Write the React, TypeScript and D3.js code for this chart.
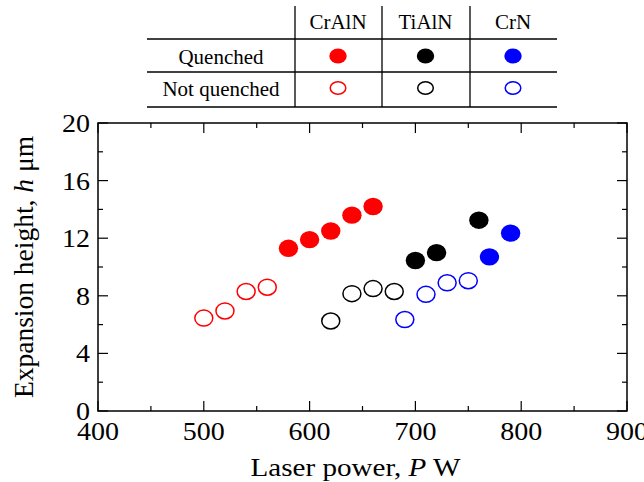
import React from "react";
import * as d3 from "d3";

// laser power (W) and expansion height (um)
const crAlNQuenchedP = [580, 600, 620, 640, 660];
const crAlNQuenchedH = [11.3, 11.9, 12.5, 13.6, 14.2];
const crAlNOpenP = [500, 520, 540, 560];
const crAlNOpenH = [6.45, 6.95, 8.3, 8.6];
const tiAlNQuenchedP = [700, 720, 760];
const tiAlNQuenchedH = [10.45, 11.0, 13.25];
const tiAlNOpenP = [620, 640, 660, 680];
const tiAlNOpenH = [6.25, 8.15, 8.5, 8.3];
const crNQuenchedP = [770, 790];
const crNQuenchedH = [10.7, 12.35];
const crNOpenP = [690, 710, 730, 750];
const crNOpenH = [6.35, 8.1, 8.9, 9.05];

const materials = ["CrAlN", "TiAlN", "CrN"];
const matColors = ["#ff0000", "#000000", "#0000ff"];
const rowLabels = ["Quenched", "Not quenched"];

const xMajor = [400, 500, 600, 700, 800, 900];
const xMinor = [450, 550, 650, 750, 850];
const yMajor = [0, 4, 8, 12, 16, 20];
const yMinor = [2, 6, 10, 14, 18];

const series = [
  { p: crAlNQuenchedP, h: crAlNQuenchedH, color: 0, filled: true },
  { p: crAlNOpenP, h: crAlNOpenH, color: 0, filled: false },
  { p: tiAlNQuenchedP, h: tiAlNQuenchedH, color: 1, filled: true },
  { p: tiAlNOpenP, h: tiAlNOpenH, color: 1, filled: false },
  { p: crNQuenchedP, h: crNQuenchedH, color: 2, filled: true },
  { p: crNOpenP, h: crNOpenH, color: 2, filled: false },
];

const FONT = "'Liberation Serif', 'DejaVu Serif', serif";

// the original figure is a little stretched sideways, so text is too
function Label(props: { x: number; y: number; size: number; sx?: number; anchor?: string; children: React.ReactNode }) {
  const { x, y, size, sx = 1.12, anchor = "middle", children } = props;
  return (
    <text transform={`translate(${x},${y}) scale(${sx},1)`} fontSize={size} textAnchor={anchor}>
      {children}
    </text>
  );
}

export default function App() {
  const W = 644, H = 482;
  const left = 98, right = 627, top = 123, bottom = 411;

  const x = d3.scaleLinear().domain([400, 900]).range([left, right]);
  const y = d3.scaleLinear().domain([0, 20]).range([bottom, top]);

  // legend table geometry
  const colX = d3.scalePoint<string>().domain(materials).range([338, 513]);
  const rowY = d3.scalePoint<string>().domain(rowLabels).range([56, 88]);
  const tabLeft = 147, tabRight = 557;
  const vLines = [295, 382, 470];
  const hLines = [39, 72, 107];

  const marker = (cx: number, cy: number, color: string, filled: boolean, key: string, big = true) =>
    filled ? (
      <ellipse key={key} cx={cx} cy={cy} rx={big ? 9.7 : 8.7} ry={big ? 8.7 : 7.6} fill={color} />
    ) : (
      <ellipse key={key} cx={cx} cy={cy} rx={big ? 9 : 7.8} ry={big ? 8 : 6.2} fill="none" stroke={color} strokeWidth={1.5} />
    );

  return (
    <svg width={W} height={H} style={{ position: "absolute", left: 0, top: 0, background: "#fff" }} fontFamily={FONT}>
      {/* legend table */}
      {vLines.map((vx) => (
        <line key={"v" + vx} x1={vx} x2={vx} y1={6} y2={107} stroke="#000" strokeWidth={1.3} />
      ))}
      {hLines.map((hy) => (
        <line key={"h" + hy} x1={tabLeft} x2={tabRight} y1={hy} y2={hy} stroke="#000" strokeWidth={1.3} />
      ))}
      {materials.map((m) => (
        <Label key={"m" + m} x={colX(m) as number} y={29} size={20} sx={1.05}>{m}</Label>
      ))}
      {rowLabels.map((r) => (
        <Label key={"r" + r} x={221} y={(rowY(r) as number) + 8} size={20} sx={1.05}>{r}</Label>
      ))}
      {materials.map((m, i) => (
        <g key={"lm" + m}>
          {marker(colX(m) as number, rowY("Quenched") as number, matColors[i], true, "q" + m, false)}
          {marker(colX(m) as number, rowY("Not quenched") as number, matColors[i], false, "n" + m, false)}
        </g>
      ))}

      {/* frame */}
      <rect x={left} y={top} width={right - left} height={bottom - top} fill="none" stroke="#000" strokeWidth={1.5} />

      {/* x ticks */}
      {xMajor.map((v) => (
        <g key={"xM" + v}>
          <line x1={x(v)} x2={x(v)} y1={bottom} y2={bottom - 10} stroke="#000" strokeWidth={1.2} />
          <line x1={x(v)} x2={x(v)} y1={top} y2={top + 10} stroke="#000" strokeWidth={1.2} />
          <Label x={x(v)} y={bottom + 29} size={25}>{v}</Label>
        </g>
      ))}
      {xMinor.map((v) => (
        <g key={"xm" + v}>
          <line x1={x(v)} x2={x(v)} y1={bottom} y2={bottom - 5} stroke="#000" strokeWidth={1.2} />
          <line x1={x(v)} x2={x(v)} y1={top} y2={top + 5} stroke="#000" strokeWidth={1.2} />
        </g>
      ))}

      {/* y ticks */}
      {yMajor.map((v) => (
        <g key={"yM" + v}>
          <line x1={left} x2={left + 10} y1={y(v)} y2={y(v)} stroke="#000" strokeWidth={1.2} />
          <line x1={right} x2={right - 10} y1={y(v)} y2={y(v)} stroke="#000" strokeWidth={1.2} />
          <Label x={left - 8} y={y(v) + 9} size={25} anchor="end">{v}</Label>
        </g>
      ))}
      {yMinor.map((v) => (
        <g key={"ym" + v}>
          <line x1={left} x2={left + 5} y1={y(v)} y2={y(v)} stroke="#000" strokeWidth={1.2} />
          <line x1={right} x2={right - 5} y1={y(v)} y2={y(v)} stroke="#000" strokeWidth={1.2} />
        </g>
      ))}

      {/* axis titles */}
      <Label x={(left + right) / 2 - 7} y={476} size={26}>
        Laser power, <tspan fontStyle="italic">P</tspan> W
      </Label>
      <text transform={`translate(33,${(top + bottom) / 2}) rotate(-90)`} fontSize={27.5} textAnchor="middle">
        Expansion height, <tspan fontStyle="italic">h</tspan> μm
      </text>

      {/* data */}
      {series.map((s, si) =>
        s.p.map((p, i) => marker(x(p), y(s.h[i]), matColors[s.color], s.filled, `s${si}-${i}`))
      )}
    </svg>
  );
}
